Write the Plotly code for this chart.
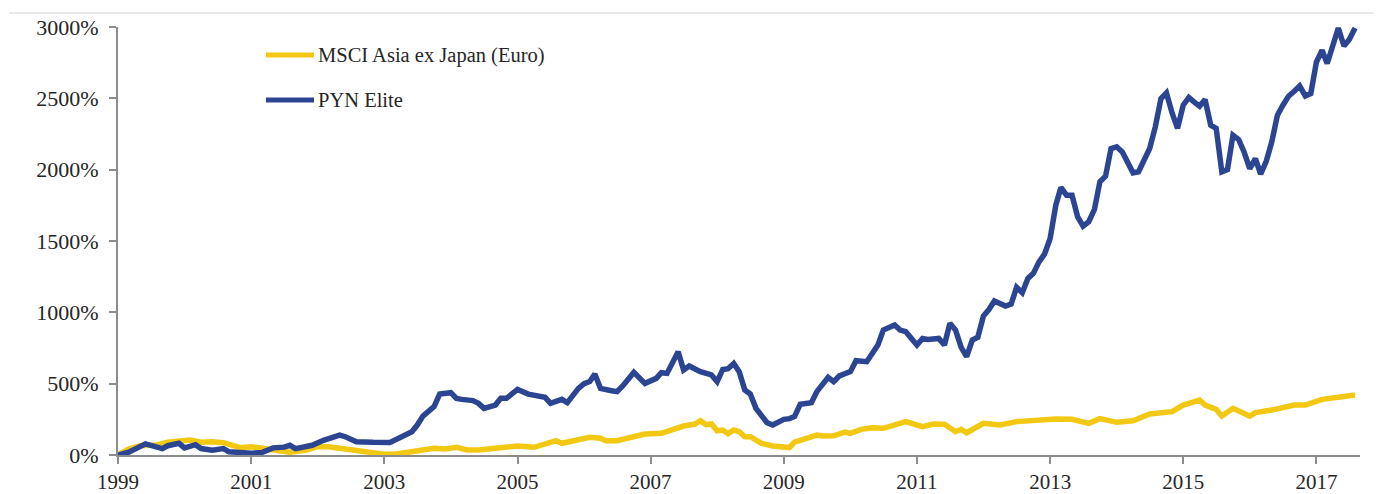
import plotly.graph_objects as go
import pandas as pd

# ---- data (month offsets from Jan 1999, cumulative return in %) ----
msci_month_idx = [0, 2, 4, 7, 9, 11, 13, 15, 17, 19, 21, 22, 24, 26, 29, 31, 34, 36, 38, 41, 43, 46, 48,
                  50, 53, 55, 57, 59, 61, 63, 65, 68, 70, 72, 75, 77, 78, 79, 80, 83, 84, 85, 87, 88, 90,
                  93, 95, 98, 100, 102, 104, 105, 106, 107, 108, 109, 110, 111, 112, 113, 114, 116, 118,
                  120, 121, 122, 123, 124, 126, 127, 129, 131, 132, 134, 136, 138, 140, 142, 145, 147, 149,
                  151, 152, 153, 156, 159, 162, 166, 169, 172, 175, 177, 180, 183, 186, 190, 192, 195, 196,
                  198, 199, 201, 204, 205, 208, 212, 214, 217, 220, 223]
msci_values = [0, 42, 65, 70, 89, 100, 105, 89, 93, 86, 65, 51, 58, 47, 28, 19, 35, 58, 58, 42, 23, 12, 5,
               5, 21, 35, 47, 42, 54, 35, 35, 47, 51, 63, 54, 82, 86, 100, 82, 105, 117, 124, 117, 100, 100,
               124, 147, 152, 182, 203, 217, 240, 212, 217, 170, 175, 150, 175, 163, 128, 128, 82, 63,
               58, 52, 90, 105, 112, 140, 133, 135, 161, 152, 180, 191, 187, 208, 234, 198, 217, 215,
               163, 180, 156, 222, 210, 234, 245, 252, 250, 222, 255, 229, 240, 287, 304, 350, 385, 350,
               320, 273, 327, 273, 297, 315, 350, 350, 390, 404, 420]

pyn_month_idx = [0, 2, 5, 6, 8, 9, 11, 12, 14, 15, 17, 19, 20, 22, 24, 26, 28, 30, 31, 32, 34, 35, 37, 38,
                 40, 41, 43, 46, 47, 49, 51, 53, 54, 55, 57, 58, 60, 61, 62, 64, 65, 66, 68, 69, 70, 72,
                 74, 75, 77, 78, 80, 81, 83, 84, 85, 86, 87, 89, 90, 91, 93, 95, 97, 98, 99, 101, 102,
                 103, 105, 107, 108, 109, 110, 111, 112, 113, 114, 115, 117, 118, 120, 121, 122, 123, 125,
                 126, 128, 129, 130, 132, 133, 135, 137, 138, 140, 141, 142, 144, 145, 146, 148, 149, 150,
                 151, 152, 153, 154, 155, 156, 157, 158, 160, 161, 162, 163, 164, 165, 166, 167, 168, 169,
                 170, 171, 172, 173, 174, 175, 176, 177, 178, 179, 180, 181, 183, 184, 186, 187, 188, 189,
                 190, 191, 192, 193, 194, 195, 196, 197, 198, 199, 200, 201, 202, 203, 204, 205, 206, 207,
                 208, 209, 210, 211, 212, 213, 214, 215, 216, 217, 218, 219, 220, 221, 222, 223]
pyn_values = [0, 20, 78, 65, 45, 65, 82, 50, 72, 45, 33, 45, 22, 18, 12, 18, 50, 55, 68, 45, 62, 68, 103, 115,
              140, 128, 93, 89, 87, 88, 124, 163, 210, 273, 339, 427, 437, 397, 390, 381, 362, 327, 350, 397, 397, 460,
              427, 420, 404, 362, 390, 367, 467, 500, 515, 567, 467, 450, 444, 484, 579, 502, 537, 577, 572, 724, 596,
              624, 584, 561, 514, 600, 605, 642, 584, 455, 427, 327, 226, 210, 250, 255, 270, 355, 367,
              444, 544, 514, 554, 584, 661, 654, 771, 876, 911, 876, 864, 771, 817, 810, 817, 771, 923,
              876, 755, 689, 806, 825, 974, 1021, 1079, 1044, 1058, 1175, 1137, 1238, 1273, 1354, 1408, 1518, 1751,
              1875, 1821, 1821, 1669, 1604, 1635, 1721, 1915, 1954, 2148, 2160, 2124, 1978, 1985, 2148, 2300, 2499, 2538,
              2398, 2289, 2452, 2506, 2475, 2445, 2492, 2312, 2289, 1985, 2001, 2242, 2212, 2124, 2008, 2078, 1968, 2060,
              2195, 2382, 2452, 2515, 2550, 2587, 2517, 2534, 2755, 2837, 2744, 2884, 2993, 2867, 2914, 2993]

series_names = ["MSCI Asia ex Japan (Euro)", "PYN Elite"]
y_tick_values = [0, 500, 1000, 1500, 2000, 2500, 3000]
y_tick_labels = ["0%", "500%", "1000%", "1500%", "2000%", "2500%", "3000%"]


def to_dates(idx):
    return [pd.Timestamp(1999 + m // 12, m % 12 + 1, 1) for m in idx]


YELLOW = "#F2C812"
BLUE = "#2B4592"
AXIS = "#8C8C8C"
TEXT = "#262626"
Y_TICK_FONT = dict(family="Liberation Serif", size=22, color=TEXT)
X_TICK_FONT = dict(family="Liberation Serif", size=21, color=TEXT)

fig = go.Figure()
fig.add_trace(go.Scatter(x=to_dates(msci_month_idx), y=msci_values, mode="lines",
                         name=series_names[0], line=dict(color=YELLOW, width=5.5)))
fig.add_trace(go.Scatter(x=to_dates(pyn_month_idx), y=pyn_values, mode="lines",
                         name=series_names[1], line=dict(color=BLUE, width=5.5)))

# page is shown with an 8px body margin, so the figure is 8px smaller and margins compensate
OFF = 8
W, H = 1382 - OFF, 494 - OFF
PLOT_L, PLOT_R, PLOT_T, PLOT_B = 118, 1360, 27, 455   # wanted plot area in page pixels
L, R, T, B = PLOT_L - OFF, 1382 - PLOT_R, PLOT_T - OFF, 494 - PLOT_B
pw, ph = PLOT_R - PLOT_L, PLOT_B - PLOT_T


def px_x(px):
    return (px - PLOT_L) / pw


def px_y(py):
    return (PLOT_B - py) / ph


shapes = [
    # thin border line at the top of the chart area
    dict(type="line", xref="paper", yref="paper", x0=px_x(9), x1=px_x(1382),
         y0=px_y(13), y1=px_y(13), line=dict(color="#D4D4D4", width=1)),
]
annotations = []
legend_colors = [YELLOW, BLUE]
legend_rows = [55, 100]
for name, col, ry in zip(series_names, legend_colors, legend_rows):
    shapes.append(dict(type="line", xref="paper", yref="paper", x0=px_x(266), x1=px_x(314),
                       y0=px_y(ry), y1=px_y(ry), line=dict(color=col, width=5)))
    annotations.append(dict(xref="paper", yref="paper", x=px_x(316), y=px_y(ry), text=name,
                            showarrow=False, xanchor="left", yanchor="middle",
                            font=dict(family="Liberation Serif", size=20.5, color=TEXT)))

fig.update_layout(
    width=W, height=H,
    margin=dict(l=L, r=R, t=T, b=B, autoexpand=False),
    paper_bgcolor="white", plot_bgcolor="white",
    showlegend=False,
    shapes=shapes, annotations=annotations,
    font=Y_TICK_FONT,
)
fig.update_xaxes(
    type="date", range=["1999-01-01", "2017-08-28"],
    tick0="1999-01-01", dtick="M24", tickformat="%Y",
    showgrid=False, zeroline=False, automargin=False,
    showline=True, linecolor=AXIS, linewidth=2,
    ticks="outside", ticklen=7, tickwidth=1.5, tickcolor=AXIS,
    tickfont=X_TICK_FONT, ticklabelstandoff=0,
)
fig.update_yaxes(
    range=[0, 3000], tickmode="array", tickvals=y_tick_values, ticktext=y_tick_labels,
    showgrid=False, zeroline=False, automargin=False,
    showline=True, linecolor=AXIS, linewidth=2,
    ticks="outside", ticklen=7, tickwidth=1.5, tickcolor=AXIS,
    tickfont=Y_TICK_FONT, ticklabelstandoff=6,
)

fig.write_html("out.html")
